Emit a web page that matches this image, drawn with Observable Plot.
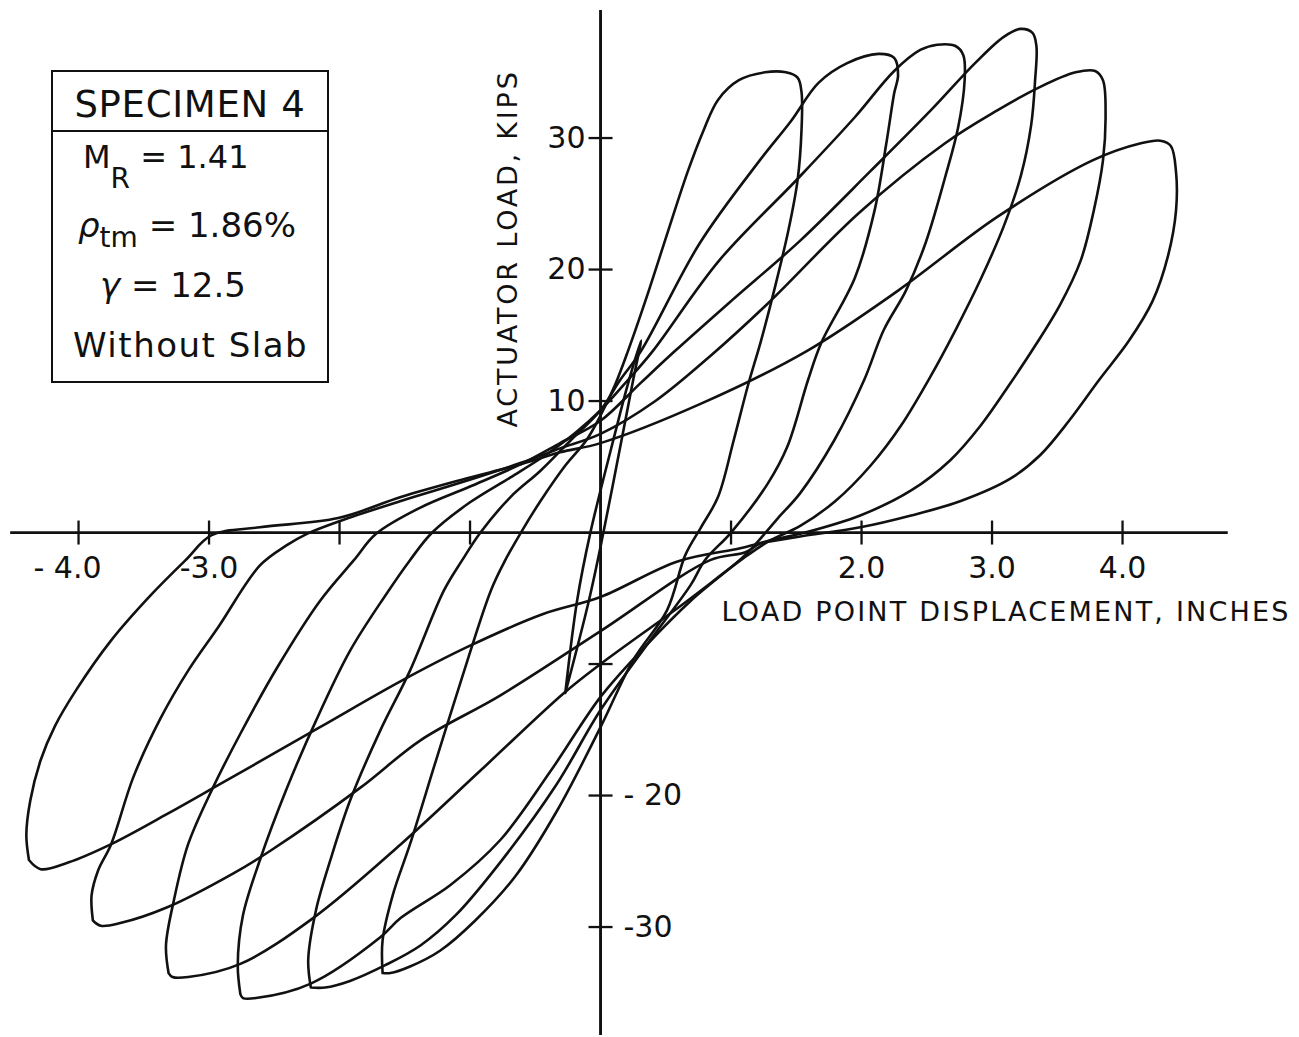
<!DOCTYPE html>
<html>
<head>
<meta charset="utf-8">
<script src="https://cdn.jsdelivr.net/npm/d3@7"></script>
<script src="https://cdn.jsdelivr.net/npm/@observablehq/plot@0.6"></script>
<style>
  html,body{margin:0;padding:0;background:#fff;}
  #wrap{position:relative;width:1299px;height:1037px;overflow:hidden;font-family:"DejaVu Sans",Arial,sans-serif;color:#111;}
  #wrap svg{position:absolute;left:0;top:0;}
  .box{position:absolute;left:51px;top:70px;width:278px;height:313px;border:2.5px solid #111;box-sizing:border-box;}
  .divider{position:absolute;left:51px;top:130px;width:278px;height:0;border-top:2.5px solid #111;}
  .lg{position:absolute;white-space:pre;line-height:1;}
  .sub{position:relative;}
</style>
</head>
<body>
<div id="wrap"></div>
<script>
// ---- axes (inches / kips) ----
const axisXExtent = [-4.52, 4.81];
const axisYExtent = [-38.25, 39.7];
const xTickValues = [-4, -3, -2, -1, 1, 2, 3, 4];
const xTickLabelValues = [-3, 2, 3, 4];
const xTickLabels = ["-3.0", "2.0", "3.0", "4.0"];
const xTickLabelFar = [-4];
const xTickLabelFarText = ["- 4.0"];
const yTickValues = [30, 20, 10, -10, -20, -30];
const yLeftLabelValues = [30, 20, 10];
const yLeftLabels = ["30", "20", "10"];
const yRightLabelValues = [-20, -30];
const yRightLabels = ["- 20", "-30"];

// ---- hysteresis loops: displacement (in) / actuator load (kips) ----
const loop1X = [-0.27,-0.18,-0.08,0.11,0.21,0.31,0.25,0.17,0.02,-0.09,-0.27];
const loop1Y = [-12.2,-5.2,-0.1,7.5,11.3,14.6,11.6,7.5,-0.1,-5.2,-12.2];

const loop2X = [-1.67,-1.67,-1.59,-1.46,-1.26,-1.07,-0.84,-0.73,-0.61,-0.46,-0.27,-0.11,0,0.11,0.21,0.37,0.52,0.67,0.79,0.90,1.06,1.26,1.42,1.51,1.54,
  1.54,1.51,1.44,1.34,1.23,1.13,1.02,0.90,0.77,0.65,
  0.51,0.25,0,-0.33,-0.65,-0.96,-1.23,-1.46,-1.61,-1.67];
const loop2Y = [-33.5,-31.0,-27.5,-23.7,-17.3,-11.3,-4.4,-2.1,0,2.4,5.1,7.0,8.9,11.2,13.8,18.4,23.0,27.5,30.6,32.9,34.4,35.0,35.0,34.6,33.5,
  30.6,26.8,23.0,18.8,14.6,11.2,7.0,2.7,0.4,-1.7,
  -5.9,-9.7,-14.8,-21.1,-26.1,-29.5,-31.8,-33.0,-33.5,-33.5];

const loop3X = [-2.22,-2.24,-2.18,-2.07,-1.92,-1.69,-1.46,-1.20,-1.06,-0.92,-0.69,-0.46,-0.23,0,0.15,0.31,0.76,1.22,1.46,1.67,1.89,2.13,2.25,2.28,
  2.25,2.19,2.10,1.95,1.69,1.59,1.43,1.28,1.00,0.80,
  0.69,0.38,0,-0.34,-0.77,-1.11,-1.38,-1.65,-1.92,-2.11,-2.22];
const loop3Y = [-34.6,-32.5,-28.7,-24.9,-20.4,-15.1,-10.5,-4.4,-2.1,0,2.7,4.7,7.0,9.3,11.6,13.8,22.0,28.3,31.3,34.2,35.7,36.4,36.1,34.8,
  33.4,29.6,24.5,19.4,14.4,11.6,6.5,3.7,0,-2.1,
  -4.0,-8.2,-13.5,-19.2,-25.1,-29.1,-31.4,-32.9,-34.1,-34.6,-34.6];

const loop4X = [-2.76,-2.78,-2.74,-2.61,-2.41,-2.18,-1.92,-1.65,-1.46,-1.29,-1.00,-0.69,-0.42,-0.19,0,0.21,0.40,0.91,1.52,1.95,2.25,2.45,2.58,2.72,2.78,
  2.79,2.74,2.64,2.49,2.34,2.17,2.02,1.79,1.53,1.36,1.23,
  1.11,0.69,0.31,0,-0.38,-0.77,-1.15,-1.53,-1.69,-2.22,-2.64,-2.74,-2.76];
const loop4Y = [-35.1,-32.9,-29.1,-24.9,-19.6,-14.3,-9.0,-4.8,-2.1,0,2.3,4.2,5.9,7.6,9.3,11.6,13.8,20.7,27.0,31.6,35.1,36.7,37.1,37.0,36.3,
  34.4,30.8,27.0,22.0,18.4,15.4,11.6,7.0,3.0,1.1,-0.4,
  -1.7,-5.2,-9.0,-12.5,-18.1,-23.4,-26.8,-29.3,-30.8,-34.3,-35.4,-35.4,-35.1];

const loop5X = [-3.31,-3.33,-3.27,-3.16,-2.97,-2.76,-2.48,-2.15,-1.89,-1.72,-1.38,-1.00,-0.61,-0.31,0,0.31,0.57,1.00,1.53,2.07,2.53,2.87,3.09,3.22,3.31,3.34,
  3.33,3.30,3.22,3.09,2.91,2.72,2.53,2.30,2.07,1.80,1.53,1.30,
  1.13,0.61,0,-0.28,-0.92,-1.53,-2.20,-2.76,-3.16,-3.28,-3.31];
const loop5Y = [-33.5,-31.4,-28.0,-23.7,-19.4,-15.3,-10.3,-5.2,-2.1,-0.1,1.9,3.5,5.2,6.8,8.5,11.4,13.8,17.6,22.2,27.5,32.1,35.7,37.7,38.3,38.0,37.0,
  34.4,31.0,27.1,23.3,19.2,15.4,11.9,8.1,5.1,2.4,0.5,-0.6,
  -1.7,-5.6,-10.0,-12.2,-18.1,-23.7,-29.3,-32.8,-33.8,-33.8,-33.5];

const loop6X = [-3.89,-3.90,-3.85,-3.75,-3.58,-3.37,-3.16,-2.93,-2.61,-2.41,-2.25,-1.99,-1.53,-1.07,-0.61,-0.31,0,0.42,0.85,1.28,1.98,2.64,3.04,3.35,3.64,3.79,3.85,
  3.87,3.85,3.78,3.68,3.52,3.33,3.13,2.91,2.68,2.38,1.99,1.53,1.23,
  1.11,0.84,0,-0.77,-1.38,-1.84,-2.53,-2.81,-3.32,-3.68,-3.83,-3.89];
const loop6Y = [-29.5,-27.6,-25.7,-23.7,-18.6,-14.1,-10.5,-7.2,-2.5,-1.0,-0.1,0.9,2.4,3.8,5.3,6.4,7.5,10.0,13.5,17.4,24.3,29.6,32.1,33.8,35.0,35.1,34.4,
  31.7,28.3,24.5,20.7,17.3,14.2,11.2,8.1,5.5,3.2,1.3,-0.1,-0.8,
  -1.5,-2.1,-7.5,-12.4,-15.8,-19.4,-24.2,-25.9,-28.5,-29.7,-29.9,-29.5];

const loop7X = [-4.38,-4.40,-4.37,-4.29,-4.18,-4.02,-3.75,-3.45,-3.18,-2.98,-2.61,-2.01,-1.53,-1.07,-0.61,-0.31,0,0.77,1.58,2.28,3.04,3.77,4.14,4.29,4.37,
  4.41,4.41,4.35,4.23,4.05,3.82,3.59,3.37,3.14,2.76,2.38,1.99,1.53,1.23,
  1.07,0.59,0,-0.44,-1.02,-1.53,-2.15,-2.91,-3.32,-3.75,-4.08,-4.29,-4.38];
const loop7Y = [-24.9,-23.0,-20.4,-17.3,-14.7,-12.0,-8.2,-4.8,-2.1,-0.2,0.4,1.1,2.7,4.0,5.2,6.1,6.8,9.8,13.8,18.4,24.0,28.3,29.6,29.8,29.4,
  27.4,24.5,21.1,17.6,14.6,11.6,8.5,5.9,4.1,2.4,1.3,0.4,-0.3,-0.8,
  -1.2,-2.2,-4.9,-6.2,-8.7,-11.3,-14.8,-19.1,-21.4,-23.7,-25.1,-25.6,-24.9];

const loops = [[loop1X, loop1Y],[loop2X, loop2Y],[loop3X, loop3Y],[loop4X, loop4Y],[loop5X, loop5Y],[loop6X, loop6Y],[loop7X, loop7Y]];
const points = loops.flatMap(([xs, ys], k) => xs.map((x, i) => ({loop: k + 1, x, y: ys[i]})));

const vTick = {draw(ctx){ ctx.moveTo(0, -12); ctx.lineTo(0, 12); }};
const hTick = {draw(ctx){ ctx.moveTo(-12, 0); ctx.lineTo(12, 0); }};
const ink = "#111";
const font = '"DejaVu Sans", Arial, sans-serif';

const chart = Plot.plot({
  width: 1299,
  height: 1037,
  margin: 0,
  x: {domain: [-4.598, 5.356], axis: null},
  y: {domain: [-38.40, 40.46], axis: null},
  style: {background: "#fff", fontFamily: font, color: ink},
  marks: [
    Plot.ruleY([0], {x1: axisXExtent[0], x2: axisXExtent[1], stroke: ink, strokeWidth: 2.7}),
    Plot.ruleX([0], {y1: axisYExtent[0], y2: axisYExtent[1], stroke: ink, strokeWidth: 2.9}),
    Plot.dot(xTickValues, {x: d => d, y: 0, symbol: vTick, stroke: ink, strokeWidth: 2.3, fill: "none"}),
    Plot.dot(yTickValues, {x: 0, y: d => d, symbol: hTick, stroke: ink, strokeWidth: 2.3, fill: "none"}),
    Plot.line(points, {x: "x", y: "y", z: "loop", curve: "catmull-rom", stroke: ink, strokeWidth: 2.6, strokeLinejoin: "round"}),
    Plot.text(xTickLabelValues, {x: d => d, y: 0, text: (d, i) => xTickLabels[i], dy: 36, fontSize: 30, lineAnchor: "middle", fill: ink}),
    Plot.text(xTickLabelFar, {x: d => d, y: 0, text: (d, i) => xTickLabelFarText[i], dx: -11, dy: 36, fontSize: 30, lineAnchor: "middle", fill: ink}),
    Plot.text(yLeftLabelValues, {x: 0, y: d => d, text: (d, i) => yLeftLabels[i], dx: -15, textAnchor: "end", lineAnchor: "middle", fontSize: 30, fill: ink}),
    Plot.text(yRightLabelValues, {x: 0, y: d => d, text: (d, i) => yRightLabels[i], dx: 23, textAnchor: "start", lineAnchor: "middle", fontSize: 30, fill: ink}),
    Plot.text(["ACTUATOR LOAD, KIPS"], {frameAnchor: "top-left", text: d => d, dx: 508, dy: 427, rotate: -90, textAnchor: "start", lineAnchor: "middle", fontSize: 27, fill: ink}),
    Plot.text(["LOAD POINT DISPLACEMENT, INCHES"], {frameAnchor: "top-left", text: d => d, dx: 721, dy: 612, textAnchor: "start", lineAnchor: "middle", fontSize: 27, fill: ink})
  ]
});

d3.select(chart).selectAll("text").filter(function(){ return this.textContent.startsWith("ACTUATOR"); }).style("letter-spacing", "2.8px");
d3.select(chart).selectAll("text").filter(function(){ return this.textContent.startsWith("LOAD POINT"); }).style("letter-spacing", "2.2px");

const wrap = document.getElementById("wrap");
wrap.appendChild(chart);
wrap.insertAdjacentHTML("beforeend", `
  <div class="box"></div>
  <div class="divider"></div>
  <div class="lg" style="left:51px;width:278px;text-align:center;top:86px;font-size:37px;letter-spacing:0.7px;">SPECIMEN 4</div>
  <div class="lg" style="left:83px;top:141px;font-size:32px;">M<span class="sub" style="font-size:28px;top:20px;">R</span> = 1.41</div>
  <div class="lg" style="left:78px;top:208px;font-size:34px;"><i>ρ</i><span class="sub" style="font-size:28px;top:10px;">tm</span> = 1.86%</div>
  <div class="lg" style="left:100px;top:268px;font-size:34px;"><i>γ</i> = 12.5</div>
  <div class="lg" style="left:73px;top:328px;font-size:34px;letter-spacing:1.5px;">Without Slab</div>
`);
</script>
</body>
</html>
